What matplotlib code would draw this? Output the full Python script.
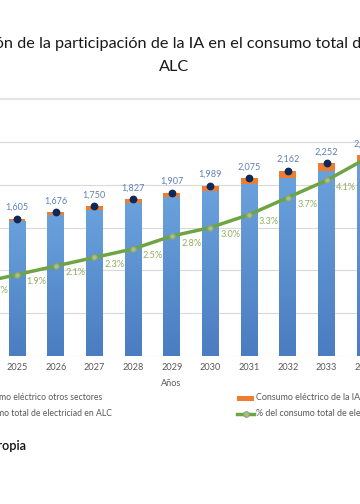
import matplotlib
matplotlib.use("Agg")
import matplotlib.pyplot as plt
import numpy as np
from matplotlib.colors import LinearSegmentedColormap
from matplotlib.patches import Rectangle
from matplotlib.lines import Line2D

# ---- data ----
years = [2024, 2025, 2026, 2027, 2028, 2029, 2030, 2031, 2032, 2033, 2034]
total = [1537, 1605, 1676, 1750, 1827, 1907, 1989, 2075, 2162, 2252, 2345]
ia = [26, 30, 35, 40, 46, 53, 60, 68, 80, 92, 107]
pct = [1.7, 1.9, 2.1, 2.3, 2.5, 2.8, 3.0, 3.3, 3.7, 4.1, 4.6]
other = [t - i for t, i in zip(total, ia)]

title_pre = "Evolución "
title_mid = "de la participación de la IA en el consumo total"
title_post = " de electricidad en"
title_l2 = "ALC"
xlabel = "Años"
leg_other = "Consumo eléctrico otros sectores"
leg_ia = "Consumo eléctrico de la IA"
leg_total = "Consumo total de electriciad en ALC"
leg_pct = "% del consumo total de electricidad en ALC"
source = "Fuente: elaboración propia"

FONT = "Lato"
W, H = 360, 504
fig = plt.figure(figsize=(W / 100, H / 100), dpi=100)
fig.patch.set_facecolor("white")
renderer = fig.canvas.get_renderer()

def fx(px):
    return px / W

def fy(py):
    return 1 - py / H

def text_w(s, size):
    t = fig.text(0, 0, s, fontsize=size, family=FONT)
    w = t.get_window_extent(renderer).width
    t.remove()
    return w

# axes geometry (pixels): wider than the figure so the view is a crop
ax_left, ax_w = -108, 576
y_top, y_bot = 99, 356
ax = fig.add_axes([fx(ax_left), fy(y_bot), ax_w / W, (y_bot - y_top) / H])
step = 38.7
x0 = 2025 + (ax_left - 17) / step
x1 = 2025 + (ax_left + ax_w - 17) / step

bw = 17 / step
cmap = LinearSegmentedColormap.from_list("b", ["#4A7DC1", "#6AA1DC"])
grad = np.linspace(0, 1, 100).reshape(-1, 1)
for x, o, i in zip(years, other, ia):
    ax.imshow(grad, extent=[x - bw / 2, x + bw / 2, 0, o], origin="lower",
              aspect="auto", cmap=cmap, zorder=2, interpolation="bilinear")
    ax.add_patch(Rectangle((x - bw / 2, o), bw, i, facecolor="#ED7D31",
                           edgecolor="none", zorder=2))
ax.plot(years, total, linestyle="none", marker="o", markersize=4.6,
        color="#0E2857", zorder=4)
for x, t in zip(years, total):
    ax.annotate(f"{t:,}", (x, t), xytext=(0, 8), textcoords="offset points",
                ha="center", va="center", fontsize=6.6, color="#5F80B8",
                family=FONT, zorder=5)

ax.set_xlim(x0, x1)
ax.set_ylim(0, 3000)
for v in [0, 500, 1000, 1500, 2000, 2500]:
    ax.axhline(v, color="#D9D9D9", lw=0.8, zorder=0)
ax.axhline(3000, color="#E4E4E4", lw=1.6, zorder=0, clip_on=False)
ax.set_xticks(years)
ax.set_xticklabels([str(y) for y in years], family=FONT, fontsize=6.6,
                   color="#595959")
ax.tick_params(axis="x", length=0, pad=5)
ax.set_yticks([])
for s in ax.spines.values():
    s.set_visible(False)
ax.set_facecolor("none")

ax2 = ax.twinx()
ax2.set_ylim(0, 6)
ax2.plot(years, pct, color="#6FA443", lw=2.5, marker="o", markersize=4,
         markerfacecolor="#A9BC92", markeredgecolor="#86A866",
         markeredgewidth=0.8, zorder=3)
for x, p in zip(years, pct):
    ax2.annotate(f"{p:.1f}%", (x, p), xytext=(7, -5), textcoords="offset points",
                 ha="left", va="center", fontsize=6.6, color="#8FAF60",
                 family=FONT)
ax2.set_yticks([])
for s in ax2.spines.values():
    s.set_visible(False)

fig.text(fx(171), fy(383), xlabel, ha="center", va="center", fontsize=6.6,
         color="#595959", family=FONT)

# title: fit so that "de la ... total" spans the same pixels as the reference
base = 12.0
tsize = base * 330 / text_w(title_mid, base)
pre_w = text_w(title_pre + title_mid, tsize) - text_w(title_mid, tsize)
fig.text(fx(17 - pre_w), fy(44), title_pre + title_mid + title_post,
         ha="left", va="center", fontsize=tsize, color="#1A1A1A", family=FONT)
fig.text(fx(174), fy(67), title_l2, ha="center", va="center", fontsize=tsize,
         color="#1A1A1A", family=FONT)

# legend
fig.text(fx(102), fy(398), leg_other, ha="right", va="center", fontsize=6.2,
         color="#595959", family=FONT)
fig.text(fx(112), fy(414), leg_total, ha="right", va="center", fontsize=6.2,
         color="#595959", family=FONT)
fig.patches.append(Rectangle((fx(237), fy(401)), fx(17), 5 / H,
                             facecolor="#ED7D31", edgecolor="none",
                             transform=fig.transFigure))
fig.text(fx(256), fy(398), leg_ia, ha="left", va="center", fontsize=6.4,
         color="#595959", family=FONT)
fig.lines.append(Line2D([fx(237), fx(254)], [fy(414), fy(414)],
                        color="#6FA443", lw=2.5, transform=fig.transFigure))
fig.lines.append(Line2D([fx(245.5)], [fy(414)], marker="o", markersize=4,
                        markerfacecolor="#A9BC92", markeredgecolor="#86A866",
                        markeredgewidth=0.8, transform=fig.transFigure))
fig.text(fx(256), fy(414), leg_pct, ha="left", va="center", fontsize=6.4,
         color="#595959", family=FONT)

fig.text(fx(26), fy(446), source, ha="right", va="center", fontsize=9.2,
         color="#111111", family=FONT, weight="semibold")

fig.savefig("out.png", dpi=100)
